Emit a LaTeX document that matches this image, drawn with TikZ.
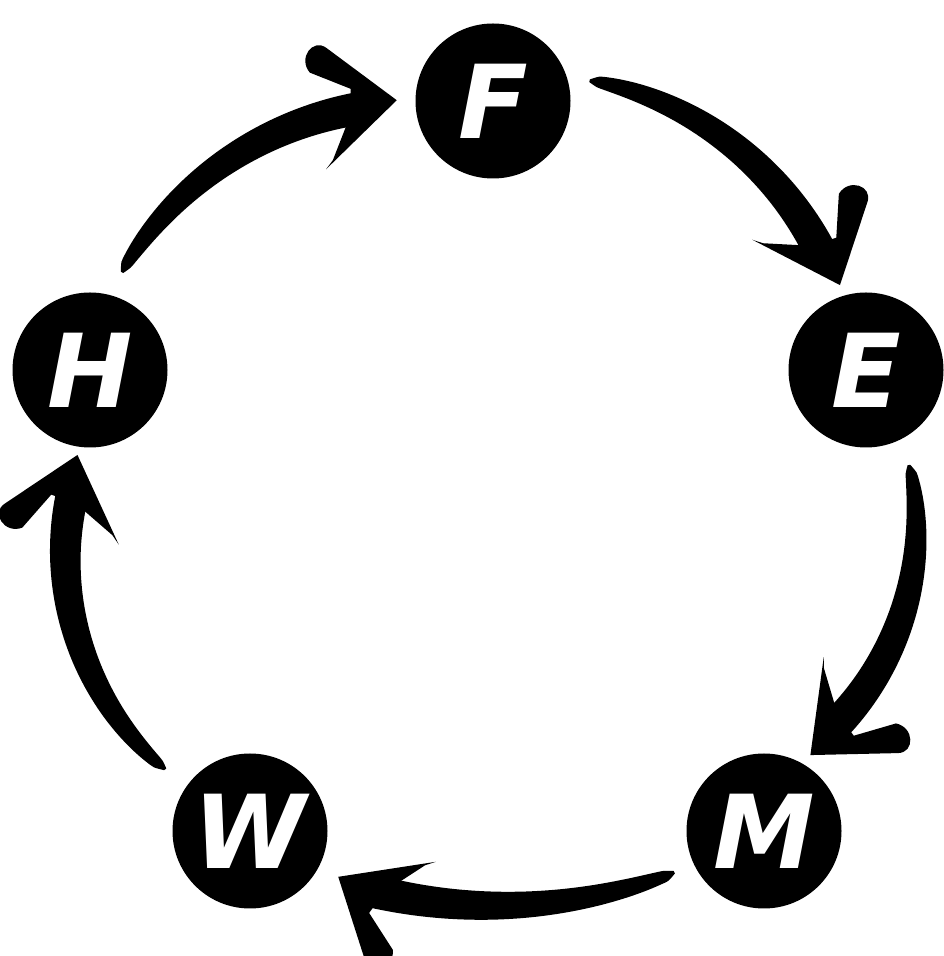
\documentclass[tikz,border=0pt]{standalone}
\usepackage{fontspec}
\setsansfont{DejaVu Sans}
\begin{document}
\begin{tikzpicture}[x=1pt,y=1pt]
\tikzset{
  stage/.style={circle, fill=black, minimum size=155pt, inner sep=0pt, text=white,
    font=\sffamily\bfseries\itshape\fontsize{102}{102}\selectfont},
  brush/.style={fill=black}
}
% #1 tail angle, #2 tip angle, #3 tail radius, #4 mid radius, #5 tip radius
\newcommand\brushArrow[5]{%
  \fill[brush] plot[smooth, domain=0:1, samples=36, variable=\u]
    ({#1+(#2+5-#1)*\u}:{(1-\u)^2*#3+2*\u*(1-\u)*#4+\u^2*(#5+2)+0.8+8*(sqrt(\u)+sqrt(sqrt(\u)))})
    -- plot[smooth, domain=1:0, samples=36, variable=\u]
    ({#1+(#2+5-#1)*\u}:{(1-\u)^2*#3+2*\u*(1-\u)*#4+\u^2*(#5+2)-0.8-8*(sqrt(\u)+sqrt(sqrt(\u)))})
    -- cycle;
  \begin{scope}[shift={(#2:#5)}, rotate=#2-95]
    \fill[brush] (0,0) -- (-62,62) .. controls (-74,74) and (-92,56) .. (-82,40)
      -- (-44,18) -- (-48,-8) -- (-72,-50) -- (-80,-58) -- cycle;
  \end{scope}
}
\useasboundingbox (0,0) rectangle (944,956);
\coordinate (C) at (492,456);
\node[stage] (F) at (493,855) {F};
\node[stage] (E) at (866,586) {E};
\node[stage] (M) at (764,125) {M};
\node[stage] (W) at (250,125) {W};
\node[stage] (H) at (90,586) {H};
\begin{scope}[shift={(C)}]
  \brushArrow{148.4}{103.4}{435}{437}{411} % H -> F
  \brushArrow{76.9}{31.7}{431}{438}{409}   % F -> E
  \brushArrow{4.8}{-38.7}{419}{438}{408}   % E -> M
  \brushArrow{-63.9}{-112.2}{415}{400}{407} % M -> W
  \brushArrow{-140.5}{-186.2}{424}{452}{417} % W -> H
\end{scope}
\end{tikzpicture}
\end{document}
